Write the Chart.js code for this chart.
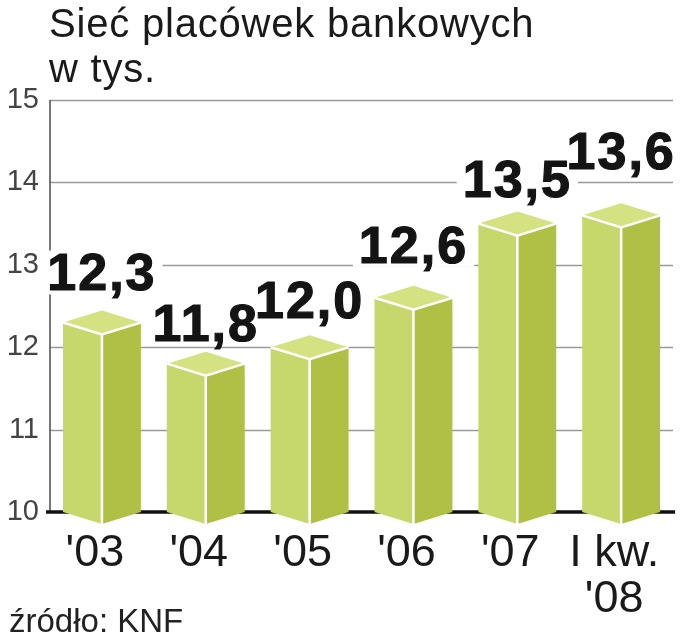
<!DOCTYPE html>
<html><head><meta charset="utf-8">
<script src="https://cdn.jsdelivr.net/npm/chart.js@4/dist/chart.umd.min.js"></script>
<style>
html,body{margin:0;padding:0;background:#fff;}
#wrap{position:relative;width:686px;height:640px;overflow:hidden;}
canvas{position:absolute;left:0;top:0;}
#title{position:absolute;left:49px;top:1px;font:40px/45px "Liberation Sans",Arial,sans-serif;letter-spacing:0.8px;color:#1a1a1a;white-space:nowrap;}
#src{position:absolute;left:9px;top:603px;font:33px/36px "Liberation Sans",Arial,sans-serif;color:#222;white-space:nowrap;}
</style></head>
<body>
<div id="wrap">
<canvas id="c" width="686" height="640"></canvas>
<div id="title">Sieć placówek bankowych<br>w tys.</div>
<div id="src">źródło: KNF</div>
</div>
<script>
const categories = ["'03", "'04", "'05", "'06", "'07", ["I kw.", "'08"]];
const values = [12.3, 11.8, 12.0, 12.6, 13.5, 13.6];
const valueLabels = ["12,3", "11,8", "12,0", "12,6", "13,5", "13,6"];
const yTicks = [10, 11, 12, 13, 14, 15];

const HALF = 12; // half-height of the top rhombus
const COLORS = {left:'#c6d86c', right:'#afc044', top:'#d4e281', edge:'#ffffff'};

const prismPlugin = {
  id: 'prism',
  beforeDatasetsDraw(chart, args, opts) {
    const ctx = chart.ctx, ca = chart.chartArea, y = chart.scales.y;
    ctx.save();
    yTicks.forEach(v => {
      if (v === 10) return;
      const py = Math.round(y.getPixelForValue(v)) + 0.5;
      ctx.strokeStyle = '#9a9a9a'; ctx.lineWidth = 1.6;
      ctx.beginPath(); ctx.moveTo(ca.left, py); ctx.lineTo(ca.right, py); ctx.stroke();
    });
    ctx.strokeStyle = '#555'; ctx.lineWidth = 1.6;
    ctx.beginPath(); ctx.moveTo(ca.left, y.getPixelForValue(15)); ctx.lineTo(ca.left, y.getPixelForValue(10)); ctx.stroke();
    const by = y.getPixelForValue(10);
    ctx.strokeStyle = '#111'; ctx.lineWidth = 3.5;
    ctx.beginPath(); ctx.moveTo(ca.left - 4, by); ctx.lineTo(ca.right + 2, by); ctx.stroke();
    const meta = chart.getDatasetMeta(0);
    ctx.font = opts.font;
    ctx.letterSpacing = opts.spacing;
    meta.data.forEach((bar, i) => {
      const w = ctx.measureText(valueLabels[i]).width;
      const base = bar.y - HALF - opts.gaps[i];
      ctx.fillStyle = '#fff';
      ctx.fillRect(bar.x - w / 2 - 6, base - 40, w + 12, 44);
    });
    ctx.restore();
  },
  afterDatasetsDraw(chart, args, opts) {
    const ctx = chart.ctx, y = chart.scales.y;
    const meta = chart.getDatasetMeta(0);
    const base = y.getPixelForValue(10);
    ctx.save();
    meta.data.forEach((bar, i) => {
      const x = bar.x, top = bar.y, hw = bar.width / 2;
      const L = x - hw, R = x + hw;
      ctx.fillStyle = COLORS.left;
      ctx.beginPath();
      ctx.moveTo(L, top); ctx.lineTo(x, top + HALF); ctx.lineTo(x, base + HALF); ctx.lineTo(L, base); ctx.closePath(); ctx.fill();
      ctx.fillStyle = COLORS.right;
      ctx.beginPath();
      ctx.moveTo(x, top + HALF); ctx.lineTo(R, top); ctx.lineTo(R, base); ctx.lineTo(x, base + HALF); ctx.closePath(); ctx.fill();
      ctx.fillStyle = COLORS.top;
      ctx.beginPath();
      ctx.moveTo(L, top); ctx.lineTo(x, top - HALF); ctx.lineTo(R, top); ctx.lineTo(x, top + HALF); ctx.closePath(); ctx.fill();
      ctx.strokeStyle = COLORS.edge; ctx.lineWidth = 2.5; ctx.lineJoin = 'miter';
      ctx.beginPath();
      ctx.moveTo(L, top); ctx.lineTo(x, top + HALF); ctx.lineTo(R, top);
      ctx.moveTo(x, top + HALF); ctx.lineTo(x, base + HALF);
      ctx.stroke();
      ctx.font = opts.font;
      ctx.letterSpacing = opts.spacing;
      ctx.fillStyle = '#141414';
      ctx.strokeStyle = '#141414'; ctx.lineWidth = 1.2;
      ctx.textAlign = 'center'; ctx.textBaseline = 'alphabetic';
      const ly = top - HALF - opts.gaps[i];
      ctx.fillText(valueLabels[i], x, ly);
      ctx.strokeText(valueLabels[i], x, ly);
    });
    ctx.restore();
  }
};

new Chart(document.getElementById('c'), {
  type: 'bar',
  data: {
    labels: categories,
    datasets: [{
      data: values,
      backgroundColor: 'rgba(0,0,0,0)',
      borderWidth: 0,
      categoryPercentage: 1.0,
      barPercentage: 0.75
    }]
  },
  options: {
    responsive: false,
    animation: false,
    devicePixelRatio: 1,
    layout: {padding: {top: 100, right: 10, left: 0, bottom: 0}},
    plugins: {
      legend: {display: false},
      tooltip: {enabled: false},
      prism: {font: 'bold 52px "Liberation Sans", Arial, sans-serif', spacing: '2px', gaps: [20, 11, 17, 23, 15, 34]}
    },
    scales: {
      x: {
        grid: {display: false, drawTicks: false},
        border: {display: false},
        ticks: {
          color: '#1a1a1a',
          padding: 19,
          labelOffset: -7,
          maxRotation: 0,
          autoSkip: false,
          font: {family: '"Liberation Sans", Arial, sans-serif', size: 45, lineHeight: 1.02}
        },
        afterFit(s) { s.height = 128; }
      },
      y: {
        min: 10, max: 15,
        grid: {display: false, drawTicks: false},
        border: {display: false},
        afterBuildTicks(s) { s.ticks = yTicks.map(v => ({value: v})); },
        ticks: {
          color: '#444',
          padding: 11,
          font: {family: '"Liberation Sans", Arial, sans-serif', size: 29},
          callback: v => String(v)
        },
        afterFit(s) { s.width = 50; }
      }
    }
  },
  plugins: [prismPlugin]
});
</script>
</body></html>
